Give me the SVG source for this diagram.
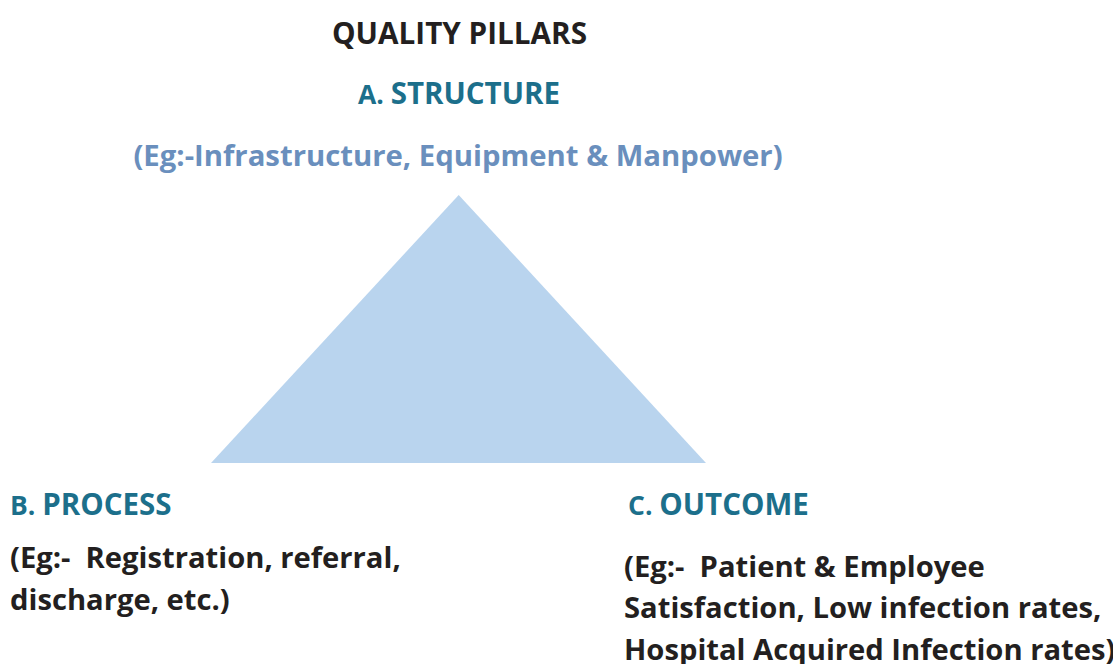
<svg xmlns="http://www.w3.org/2000/svg" width="1113" height="664" viewBox="0 0 1113 664">
  <style>
    text { font-family: "Open Sans", "Noto Sans", "Liberation Sans", sans-serif; font-weight: 700; white-space: pre; }
    .title { fill: #231f20; font-size: 29.7px; }
    .head { fill: #1c6f8b; font-size: 29.5px; }
    .head .lead { font-size: 26.5px; }
    .sub { fill: #6a8fbd; font-size: 29.3px; }
    .body { fill: #231f20; font-size: 29.2px; }
  </style>
  <rect width="1113" height="664" fill="#ffffff"/>

  <g id="title">
    <text class="title" x="459.5" y="44" text-anchor="middle">QUALITY PILLARS</text>
  </g>

  <g id="structure">
    <text class="head" x="459" y="104" text-anchor="middle"><tspan class="lead">A. </tspan>STRUCTURE</text>
    <text class="sub" x="458" y="166" text-anchor="middle">(Eg:-Infrastructure, Equipment &amp; Manpower)</text>
  </g>

  <g id="pyramid">
    <polygon points="458.7,195 211,463 706,463" fill="#b9d4ee"/>
  </g>

  <g id="process">
    <text class="head" x="10" y="515"><tspan class="lead">B. </tspan>PROCESS</text>
    <text class="body" x="10" y="568" xml:space="preserve">(Eg:-  Registration, referral,</text>
    <text class="body" x="10" y="610">discharge, etc.)</text>
  </g>

  <g id="outcome">
    <text class="head" x="628" y="515"><tspan class="lead">C. </tspan>OUTCOME</text>
    <text class="body" x="624" y="577" xml:space="preserve">(Eg:-  Patient &amp; Employee</text>
    <text class="body" x="624" y="618">Satisfaction, Low infection rates,</text>
    <text class="body" x="624" y="660">Hospital Acquired Infection rates)</text>
  </g>
</svg>
